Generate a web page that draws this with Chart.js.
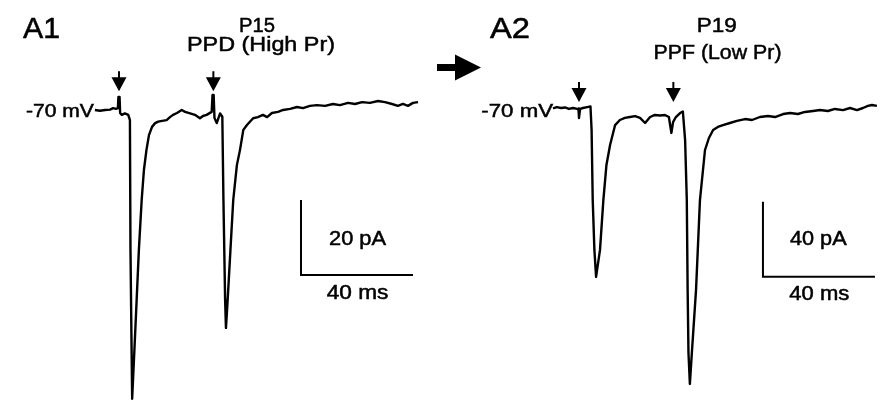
<!DOCTYPE html>
<html>
<head>
<meta charset="utf-8">
<script src="https://cdn.jsdelivr.net/npm/chart.js@4.4.1/dist/chart.umd.min.js"></script>
<style>
html,body{margin:0;padding:0;background:#fff;}
#wrap{width:881px;height:400px;position:relative;}
</style>
</head>
<body>
<div id="wrap"><canvas id="traces" width="881" height="400"></canvas></div>
<script>
// A1 - P15 cell, paired pulse depression. time in ms from 1st stimulus, current in pA from holding
const a1Time=[-8.6,-6.8,-5,-3.2,-2.1,-1.1,-0.4,-0.2,0.2,0.4,1,2.1,3.3,3.9,4.1,4.5,4.7,5.5,6.3,7.1,8.1,8.9,9.8,10.7,11.8,12.9,14,15.4,17,18.2,19.3,20.7,22.4,23.6,25.4,27.1,28.9,30,31.3,33.1,33.4,33.8,34.1,34.9,36.1,36.9,37.3,37.9,38.2,38.8,39.8,40.8,42.1,43.2,44.4,45.7,47.9,49.6,51.4,52.9,54.6,56.8,58.6,61.1,63.6,65.7,68.2,70.7,73.6,76.4,78.9,81.8,84.3,86.8,89.6,92.5,95,97.5,99.6,101.4,103.2,105,106.8];
const a1Current=[0,-0.2,0,0.1,0.5,0.3,0.5,3.5,3.5,-0.8,-1.3,-0.9,-1.3,-2.7,-37.3,-64,-77,-64,-50.7,-37.3,-24,-16,-10.7,-6.7,-4.5,-3.5,-3.1,-2.9,-2.7,-1.9,-1.3,-0.8,0,-0.5,-0.9,-1.3,-2.2,-1.6,-1.3,-0.5,4,4,-2.1,-3.5,-0.9,-1.8,-24,-50.7,-58.1,-50.7,-37.3,-24,-14.7,-10.7,-5.3,-4,-2.2,-1.9,-1.3,-1.9,-0.8,-0.5,0,0.3,0.8,0.5,1.1,1.3,1.1,1.6,1.3,1.9,1.6,2.1,1.9,2.4,2.1,1.6,1.1,1.6,1.1,1.9,2.1];

// A2 - P19 cell, paired pulse facilitation
const a2Time=[-9.3,-7.9,-6.4,-5,-3.6,-2.1,-0.7,-0.2,0,0.4,1.4,2.9,4.1,4.5,4.9,5.5,6.1,7.5,8.7,9.8,11.1,12.9,14.6,16.4,18.2,20,21.8,23.6,25.4,27.1,28.9,30.7,32.1,33,33.6,34.6,36.1,37.1,37.9,38.5,38.8,39.1,39.6,40.3,41.8,43.2,45,46.4,47.9,49.6,51.4,53.9,56.4,59.3,61.8,64.6,67.5,70,72.9,75.4,78.2,80.7,83.6,86.1,88.9,91.4,94.3,96.8,99.3,101.4,103.2,104.6,106.4];
const a2Current=[-0.2,0.5,0,0.3,-0.5,0,-0.5,-0.3,-5.3,-0.5,0,0.5,0.8,-11.7,-49.1,-75.7,-90.1,-75.7,-49.1,-30.4,-19.7,-9.1,-6.4,-5.3,-4.8,-4.3,-5.3,-8,-4.8,-3.7,-4,-3.7,-4.8,-13.3,-7.5,-4.8,-2.7,-1.9,-17.1,-49.1,-97,-130.7,-147.2,-130.7,-97,-49.1,-22.4,-16,-11.7,-10.1,-9.1,-8,-6.9,-5.9,-6.4,-4.8,-4.3,-4.8,-3.2,-2.7,-3.2,-2.1,-1.6,-1.1,-1.6,-0.5,-1.1,0,-1.1,0,1.1,1.6,1.1];

const stimTimes=[0,33.7];
const barMs=40;
const barA1pA=20;
const barA2pA=40;

function pts(t,v){
  return t.map((x,i)=>({x:x,y:v[i]}));
}
function bar(t0,yTop,ms,pa){
  return [{x:t0,y:yTop},{x:t0,y:yTop-pa},{x:t0+ms,y:yTop-pa}];
}

const labels=[
  {t:'A1',x:23,y:38,size:30,w:37,align:'left'},
  {t:'P15',x:257,y:31.7,size:20.5,w:36,align:'center'},
  {t:'PPD (High Pr)',x:261,y:50.5,size:21,w:148,align:'center'},
  {t:'20 pA',x:357.5,y:245,size:20.5,w:57,align:'center'},
  {t:'40 ms',x:357.5,y:298.5,size:19.5,w:61.7,align:'center'},
  {t:'A2',x:490,y:37.5,size:29,w:40,align:'left'},
  {t:'P19',x:716.7,y:31.7,size:20.5,w:40,align:'center'},
  {t:'PPF (Low Pr)',x:717.5,y:58.5,size:21,w:128,align:'center'},
  {t:'40 pA',x:818.3,y:245,size:20.5,w:56.7,align:'center'},
  {t:'40 ms',x:819.3,y:300,size:19.5,w:60,align:'center'}
];

function fitText(ctx,txt,x,y,size,w,align){
  ctx.font=size+'px "Liberation Sans", Arial, sans-serif';
  const m=ctx.measureText(txt).width;
  ctx.save();
  ctx.translate(x,y);
  ctx.scale(w/m,1);
  ctx.textAlign=align;
  ctx.textBaseline='alphabetic';
  ctx.fillStyle='#000';
  ctx.strokeStyle='#000';
  ctx.lineWidth=0.5;
  ctx.fillText(txt,0,0);
  ctx.strokeText(txt,0,0);
  ctx.restore();
}

function stimArrow(ctx,x,tip){
  ctx.fillStyle='#000';
  ctx.fillRect(x-1,tip-20,2,7);
  ctx.beginPath();
  ctx.moveTo(x-7.5,tip-14);
  ctx.lineTo(x+7.5,tip-14);
  ctx.lineTo(x,tip);
  ctx.closePath();
  ctx.fill();
}

const decor={
  id:'decor',
  afterDatasetsDraw(chart){
    const ctx=chart.ctx;
    const s=chart.scales;
    labels.forEach(l=>fitText(ctx,l.t,l.x,l.y,l.size,l.w,l.align));
    // holding potential labels end where each trace starts
    fitText(ctx,'-70 mV',s.x1.getPixelForValue(a1Time[0])-1,117.3,18.5,68,'right');
    fitText(ctx,'-70 mV',s.x2.getPixelForValue(a2Time[0]),116.8,18.5,71.6,'right');
    stimTimes.forEach(t=>{
      stimArrow(ctx,s.x1.getPixelForValue(t),s.y1.getPixelForValue(5));
      stimArrow(ctx,s.x2.getPixelForValue(t),s.y2.getPixelForValue(3.2));
    });
    // big arrow between panels
    ctx.fillStyle='#000';
    ctx.fillRect(437,64,20,7);
    ctx.beginPath();
    ctx.moveTo(455,54.5);
    ctx.lineTo(481,67.5);
    ctx.lineTo(455,80.5);
    ctx.closePath();
    ctx.fill();
  }
};

const line={borderColor:'#000',borderWidth:2.4,pointRadius:0,tension:0,fill:false,clip:false,borderJoinStyle:'round'};

new Chart(document.getElementById('traces'),{
  type:'line',
  data:{
    datasets:[
      Object.assign({label:'A1',data:pts(a1Time,a1Current),xAxisID:'x1',yAxisID:'y1'},line),
      Object.assign({label:'A2',data:pts(a2Time,a2Current),xAxisID:'x2',yAxisID:'y2'},line),
      Object.assign({label:'bar1',data:bar(65,-24,barMs,barA1pA),xAxisID:'x1',yAxisID:'y1'},line,{borderWidth:2,borderJoinStyle:'miter'}),
      Object.assign({label:'bar2',data:bar(65.7,-50,barMs,barA2pA),xAxisID:'x2',yAxisID:'y2'},line,{borderWidth:2,borderJoinStyle:'miter'})
    ]
  },
  options:{
    responsive:false,
    animation:false,
    layout:{padding:0},
    plugins:{legend:{display:false},tooltip:{enabled:false}},
    scales:{
      x1:{type:'linear',display:false,min:-42.5,max:272.14},
      y1:{type:'linear',display:false,min:-77.33,max:29.33},
      x2:{type:'linear',display:false,min:-206.79,max:107.86},
      y2:{type:'linear',display:false,min:-155.73,max:57.6}
    }
  },
  plugins:[decor]
});
</script>
</body>
</html>
